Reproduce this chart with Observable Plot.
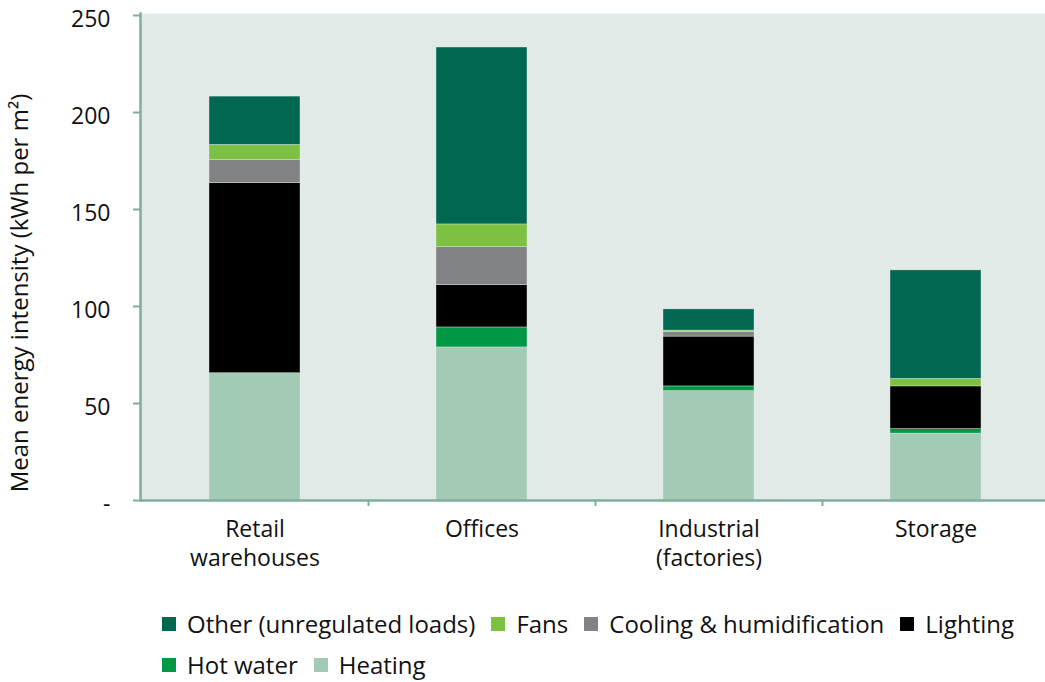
<!DOCTYPE html>
<html>
<head>
<meta charset="utf-8">
<script src="https://cdn.jsdelivr.net/npm/d3@7"></script>
<script src="https://cdn.jsdelivr.net/npm/@observablehq/plot@0.6"></script>
<style>
  body { margin: 0; background: #fff; font-family: "Open Sans", "Noto Sans", sans-serif; }
  #chart { position: relative; width: 1045px; }
  .legend { display: flex; flex-wrap: wrap; width: 890px; padding-left: 162px; margin-top: 18px; row-gap: 9px; font-size: 24px; color: #111; }
  .item { display: flex; align-items: center; margin-right: 16px; line-height: 32px; }
  .sw { width: 14px; height: 14px; margin-right: 11px; }
</style>
</head>
<body>
<div id="chart"></div>
<script>
const categories = ["Retail warehouses", "Offices", "Industrial (factories)", "Storage"];
const categoryLabels = ["Retail\nwarehouses", "Offices", "Industrial\n(factories)", "Storage"];
const series = ["Heating", "Hot water", "Lighting", "Cooling & humidification", "Fans", "Other (unregulated loads)"];
const colors = ["#a3cab4", "#009845", "#000000", "#818285", "#7dc142", "#006750"];
const heating = [65.6, 78.9, 56.4, 34.5];
const hotWater = [0, 10.3, 2.4, 2.3];
const lighting = [98.0, 21.8, 25.7, 22.0];
const cooling = [11.8, 19.6, 2.3, 0];
const fans = [7.9, 11.7, 0.8, 3.9];
const other = [24.9, 91.2, 10.9, 55.9];
const legendOrder = ["Other (unregulated loads)", "Fans", "Cooling & humidification", "Lighting", "Hot water", "Heating"];
const yTicks = [0, 50, 100, 150, 200, 250];
const yLabel = "Mean energy intensity (kWh per m²)";

const seriesValues = [heating, hotWater, lighting, cooling, fans, other];
const data = [];
series.forEach((s, si) => categories.forEach((c, ci) => data.push({category: c, series: s, value: seriesValues[si][ci]})));

const axisGreen = "#7fae9b";
const chart = Plot.plot({
  width: 1045,
  height: 590,
  marginLeft: 140,
  marginRight: 0,
  marginTop: 15,
  marginBottom: 90,
  style: {fontFamily: "'Open Sans', 'Noto Sans', sans-serif", background: "#fff"},
  x: {domain: categories, range: [141, 1049], paddingInner: 0.6, paddingOuter: 0.3},
  y: {domain: [0, 250]},
  color: {domain: series, range: colors},
  marks: [
    Plot.frame({fill: "#e1eae6", stroke: null, insetTop: -2}),
    Plot.barY(data, {x: "category", y: "value", fill: "series", stroke: "#e1eae6", strokeWidth: 0.4}),
    Plot.frame({anchor: "left", stroke: axisGreen, strokeWidth: 2.5, insetTop: -2}),
    Plot.ruleY([0], {stroke: axisGreen, strokeWidth: 2.5}),
    Plot.ruleX(categories.slice(0, 3), {x: d => d, y1: 0, y2: 0, dx: 113.5, insetBottom: -6, stroke: axisGreen, strokeWidth: 2}),
    Plot.axisY({ticks: yTicks, tickSize: 7, tickFormat: () => "", stroke: axisGreen, strokeWidth: 2, label: null}),
    Plot.axisY({ticks: yTicks, tickSize: 0, tickPadding: 30, dy: 4, tickFormat: d => d === 0 ? "-" : d, fill: "#111", fontSize: 23, label: null}),
    Plot.axisX({tickSize: 0, tickPadding: 16, tickFormat: (d, i) => categoryLabels[categories.indexOf(d)], fill: "#111", fontSize: 23, lineHeight: 1.27, label: null}),
    Plot.text([yLabel], {frameAnchor: "left", textAnchor: "middle", rotate: -90, dx: -120, dy: 35, fontSize: 24, fill: "#111"})
  ]
});
document.getElementById("chart").appendChild(chart);

const legend = document.createElement("div");
legend.className = "legend";
legendOrder.forEach(s => {
  const item = document.createElement("div");
  item.className = "item";
  const sw = document.createElement("span");
  sw.className = "sw";
  sw.style.background = colors[series.indexOf(s)];
  const t = document.createElement("span");
  t.textContent = s;
  item.appendChild(sw);
  item.appendChild(t);
  legend.appendChild(item);
});
document.getElementById("chart").appendChild(legend);
</script>
</body>
</html>
